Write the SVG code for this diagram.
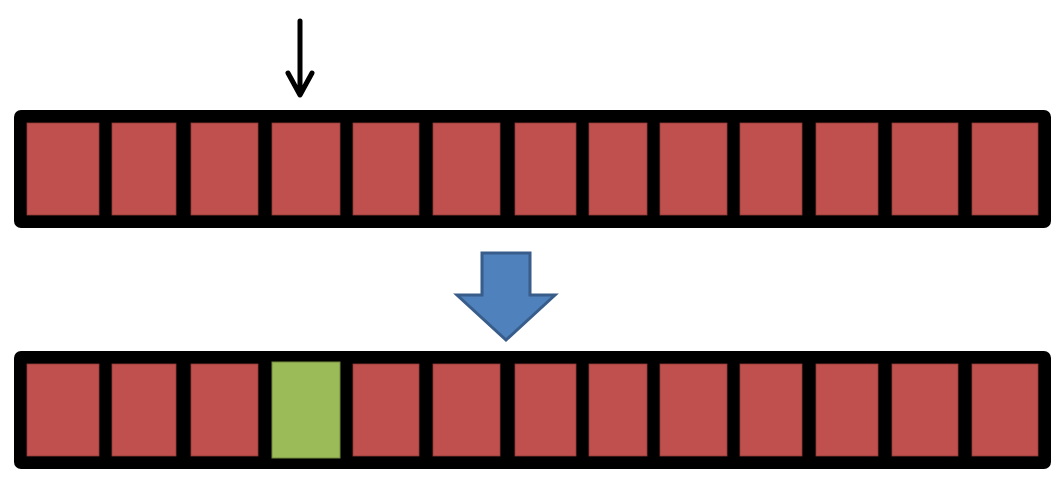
<svg xmlns="http://www.w3.org/2000/svg" width="1064" height="494" viewBox="0 0 1064 494">
<style>
.bar{fill:#000}
.c{fill:#c0504d;stroke:#8f3a38;stroke-width:0.8}
.g{fill:#9bbb59;stroke:#71893f;stroke-width:1}
.ptr{fill:none;stroke:#000;stroke-width:5;stroke-linecap:round;stroke-linejoin:round}
.big{fill:#4f81bd;stroke:#385d8a;stroke-width:3;stroke-linejoin:miter}
</style>
<rect width="1064" height="494" fill="#fff"/>
<g id="top-array">
<rect class="bar" x="14" y="110" width="1037" height="118" rx="7"/>
<rect class="c" x="27" y="123" width="72" height="92"/>
<rect class="c" x="112" y="123" width="64" height="92"/>
<rect class="c" x="191" y="123" width="67" height="92"/>
<rect class="c" x="272" y="123" width="68" height="92"/>
<rect class="c" x="353" y="123" width="66" height="92"/>
<rect class="c" x="433" y="123" width="67" height="92"/>
<rect class="c" x="515" y="123" width="61" height="92"/>
<rect class="c" x="589" y="123" width="58" height="92"/>
<rect class="c" x="660" y="123" width="67" height="92"/>
<rect class="c" x="740" y="123" width="62" height="92"/>
<rect class="c" x="816" y="123" width="62" height="92"/>
<rect class="c" x="892" y="123" width="66" height="92"/>
<rect class="c" x="972" y="123" width="66" height="92"/>
</g>
<g id="bottom-array">
<rect class="bar" x="14" y="351" width="1037" height="118" rx="7"/>
<rect class="c" x="27" y="364" width="72" height="92"/>
<rect class="c" x="112" y="364" width="64" height="92"/>
<rect class="c" x="191" y="364" width="67" height="92"/>
<rect class="g" x="272" y="362" width="68" height="96"/>
<rect class="c" x="353" y="364" width="66" height="92"/>
<rect class="c" x="433" y="364" width="67" height="92"/>
<rect class="c" x="515" y="364" width="61" height="92"/>
<rect class="c" x="589" y="364" width="58" height="92"/>
<rect class="c" x="660" y="364" width="67" height="92"/>
<rect class="c" x="740" y="364" width="62" height="92"/>
<rect class="c" x="816" y="364" width="62" height="92"/>
<rect class="c" x="892" y="364" width="66" height="92"/>
<rect class="c" x="972" y="364" width="66" height="92"/>
</g>
<g id="connectors">
<path class="ptr" d="M300 21 V94 M288 73 L300 95 L312 73"/>
<polygon class="big" points="482,253 530,253 530,295 555,295 506,340 457,295 482,295"/>
</g>
</svg>
